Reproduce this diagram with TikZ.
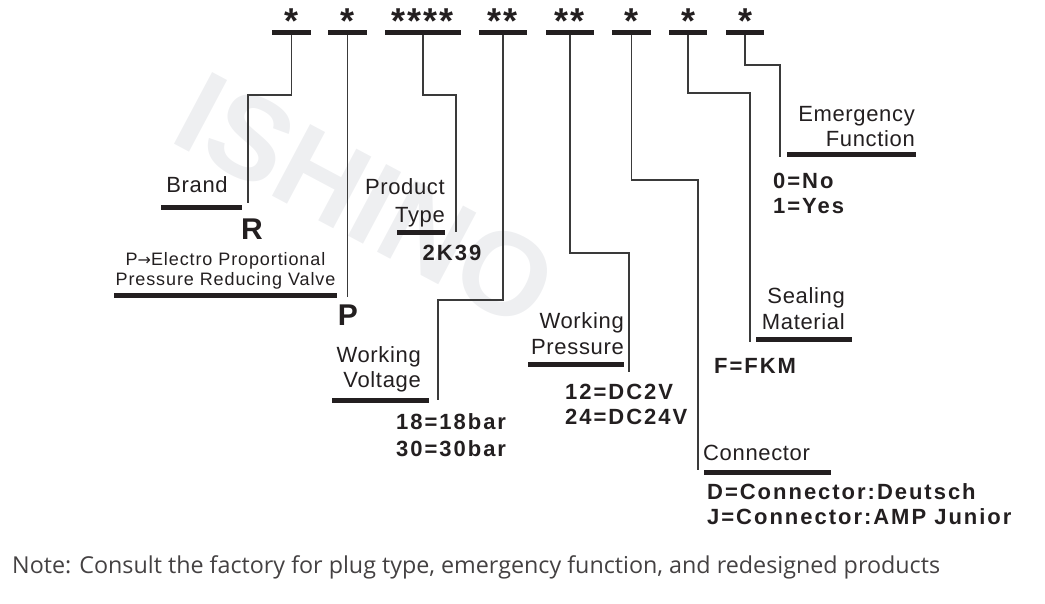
\documentclass[tikz,border=0pt]{standalone}
\usepackage{fontspec}
\setmainfont{Liberation Sans}
\newfontfamily\notefont{Open Sans}
\newfontfamily\arrowfont{DejaVu Sans}
\usetikzlibrary{calc}
\definecolor{ink}{HTML}{231F20}
\definecolor{wire}{HTML}{3A3A3A}
\definecolor{wm}{HTML}{EEEFF1}
\tikzset{
  bar/.style={fill=ink, draw=none, inner sep=0pt, minimum height=5pt},
  conn/.style={draw=wire, line width=1.3pt},
  lbl/.style={font=\fontsize{22}{22}\selectfont\addfontfeature{LetterSpace=3}, text=ink, inner sep=0pt},
  small/.style={font=\fontsize{18}{18}\selectfont\addfontfeature{LetterSpace=5}, text=ink, inner sep=0pt, anchor=base},
  val/.style={font=\fontsize{22}{22}\selectfont\bfseries\addfontfeature{LetterSpace=9}, text=ink, inner sep=0pt, anchor=base west},
  big/.style={font=\fontsize{30}{30}\selectfont\bfseries, text=ink, inner sep=0pt, anchor=base},
  star/.style={font=\fontsize{36}{36}\selectfont\bfseries, text=ink, inner sep=0pt, anchor=base},
}
\begin{document}
\begin{tikzpicture}[x=1pt,y=-1pt]
\path[use as bounding box] (0,0) rectangle (1045,603);
% watermark
\node[font=\fontsize{118}{118}\selectfont\bfseries, text=wm, rotate=-28] (wmk) at (366,200) {ISHINO};
% top bars
\node[bar, minimum width=39pt] (t1) at (291.5,32.5) {};
\node[bar, minimum width=39pt] (t2) at (347.5,32.5) {};
\node[bar, minimum width=76pt] (t3) at (423,32.5) {};
\node[bar, minimum width=48pt] (t4) at (503,32.5) {};
\node[bar, minimum width=48pt] (t5) at (570,32.5) {};
\node[bar, minimum width=39pt] (t6) at (631.5,32.5) {};
\node[bar, minimum width=38pt] (t7) at (688,32.5) {};
\node[bar, minimum width=38pt] (t8) at (745,32.5) {};
% asterisks
\node[star] (s1) at (291.5,33) {*};
\node[star] (s2) at (347.5,33) {*};
\node[star] (s3) at (423,33) {*\hspace{2pt}*\hspace{2pt}*\hspace{2pt}*};
\node[star] (s4) at (503,33) {*\hspace{2pt}*};
\node[star] (s5) at (570,33) {*\hspace{2pt}*};
\node[star] (s6) at (631.5,33) {*};
\node[star] (s7) at (688,33) {*};
\node[star] (s8) at (745,33) {*};
% label bars
\node[bar, minimum width=81pt] (lb1) at (201.5,207) {};
\node[bar, minimum width=223pt] (lb2) at (225.5,295) {};
\node[bar, minimum width=48pt] (lb3) at (421,232) {};
\node[bar, minimum width=97pt] (lb4) at (380.5,400) {};
\node[bar, minimum width=96pt] (lb5) at (576,364) {};
\node[bar, minimum width=127pt] (lb6) at (767.5,472) {};
\node[bar, minimum width=96pt] (lb7) at (804,339) {};
\node[bar, minimum width=129pt] (lb8) at (851.5,154) {};
% connectors
\coordinate (c1) at (248,95);  \coordinate (e1) at (248,203);
\coordinate (e2) at (347.5,297);
\coordinate (c3) at (456,95);  \coordinate (e3) at (456,232);
\coordinate (c4) at (438,300); \coordinate (e4) at (438,400);
\coordinate (c5) at (629,253); \coordinate (e5) at (629,372);
\coordinate (c6) at (698,180); \coordinate (e6) at (698,470);
\coordinate (c7) at (750,93);  \coordinate (e7) at (750,342);
\coordinate (c8) at (780,65);  \coordinate (e8) at (780,157);
\draw[conn] (t1.south) |- (c1) -- (e1);
\draw[conn] (t2.south) -- (e2);
\draw[conn] (t3.south) |- (c3) -- (e3);
\draw[conn] (t4.south) |- (c4) -- (e4);
\draw[conn] (t5.south) |- (c5) -- (e5);
\draw[conn] (t6.south) |- (c6) -- (e6);
\draw[conn] (t7.south) |- (c7) -- (e7);
\draw[conn] (t8.south) |- (c8) -- (e8);
% texts
\node[lbl, anchor=base] (brand) at (197,192) {Brand};
\node[big] (r) at (252,239) {R};
\node[small] (pe1) at (225.5,265) {P{\arrowfont\fontsize{16}{16}\selectfont →}Electro Proportional};
\node[small] (pe2) at (225.5,285) {Pressure Reducing Valve};
\node[big] (p) at (348,325) {P};
\node[lbl, anchor=base east] (pt1) at (445,194) {Product};
\node[lbl, anchor=base east] (pt2) at (445,222) {Type};
\node[val, anchor=base] (pt3) at (452,260) {2K39};
\node[lbl, anchor=base east] (wv1) at (421,362) {Working};
\node[lbl, anchor=base east] (wv2) at (421,387) {Voltage};
\node[val] (wv3) at (396,429) {18=18bar};
\node[val] (wv4) at (396,456) {30=30bar};
\node[lbl, anchor=base east] (wp1) at (624,328) {Working};
\node[lbl, anchor=base east] (wp2) at (624,354) {Pressure};
\node[val] (wp3) at (565,399) {12=DC2V};
\node[val] (wp4) at (565,424) {24=DC24V};
\node[lbl, anchor=base west] (cn1) at (703,460) {Connector};
\node[val] (cn2) at (707,499) {D=Connector:Deutsch};
\node[val] (cn3) at (707,524) {J=Connector:AMP Junior};
\node[lbl, anchor=base east] (sm1) at (845,303) {Sealing};
\node[lbl, anchor=base east] (sm2) at (845,329) {Material};
\node[val] (sm3) at (714,373) {F=FKM};
\node[lbl, anchor=base east] (ef1) at (915,121) {Emergency};
\node[lbl, anchor=base east] (ef2) at (915,146) {Function};
\node[val] (ef3) at (773,188) {0=No};
\node[val] (ef4) at (773,213) {1=Yes};
\node[font=\notefont\fontsize{23.3}{23.3}\selectfont, text=ink!85, inner sep=0pt, anchor=base west] (note) at (12,573) {Note: Consult the factory for plug type, emergency function, and redesigned products};
\end{tikzpicture}
\end{document}
